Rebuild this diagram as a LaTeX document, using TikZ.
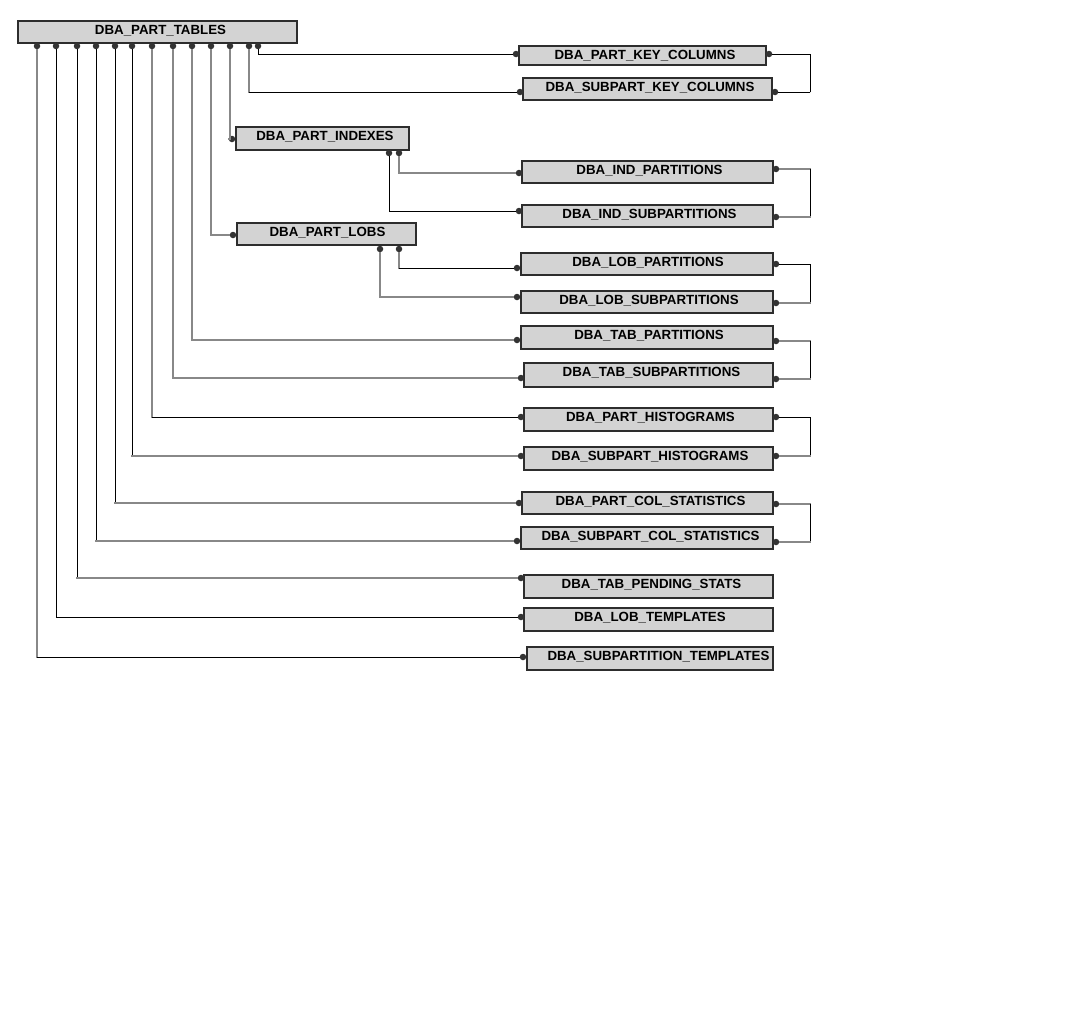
\documentclass[tikz,border=0pt]{standalone}
\usepackage{fontspec}
\setmainfont{Liberation Sans}
\definecolor{lgrey}{RGB}{136,136,136}
\definecolor{boxfill}{RGB}{211,211,211}
\definecolor{boxline}{RGB}{45,45,45}
\definecolor{dotc}{RGB}{51,51,51}
\tikzset{
  tbox/.style={rectangle, draw=boxline, fill=boxfill, line width=1.3pt, inner sep=0pt,
    font=\fontsize{13.3}{15}\selectfont\bfseries, text height=9.5pt},
  dot/.style={circle, fill=dotc, draw=none, inner sep=0pt, minimum size=6.5pt},
  lng/.style={draw=lgrey, line width=1.2pt, line cap=rect},
  lnb/.style={draw=black, line width=0.9pt, line cap=rect}
}
\newcommand\tb[7]{%
  \node[tbox, minimum width={#4-#2}, minimum height={#5-#3}, text depth={#5-#3-17.5}]
    (#1) at ({(#2+#4)/2},{(#3+#5)/2}) {\hspace*{#6pt}#7};}
\newcommand\cn[4]{\draw[#3] (#1) -- (#1 |- #2); \draw[#4] (#1 |- #2) -- (#2);}
\begin{document}
\begin{tikzpicture}[x=1pt,y=-1pt]
\fill[white] (0,0) rectangle (1076,1020);
\useasboundingbox (0,0) rectangle (1076,1020);

% boxes
\tb{T}{18}{21}{297}{43}{6}{DBA\_PART\_TABLES}
\tb{K1}{519}{46}{766}{65}{5}{DBA\_PART\_KEY\_COLUMNS}
\tb{K2}{523}{78}{772}{100}{5}{DBA\_SUBPART\_KEY\_COLUMNS}
\tb{PI}{236}{127}{409}{150}{5}{DBA\_PART\_INDEXES}
\tb{IP}{522}{161}{773}{183}{4}{DBA\_IND\_PARTITIONS}
\tb{IS}{522}{205}{773}{227}{4}{DBA\_IND\_SUBPARTITIONS}
\tb{PL}{237}{223}{416}{245}{2}{DBA\_PART\_LOBS}
\tb{LP}{521}{253}{773}{275}{2}{DBA\_LOB\_PARTITIONS}
\tb{LS}{521}{291}{773}{313}{4}{DBA\_LOB\_SUBPARTITIONS}
\tb{TP}{521}{326}{773}{349}{4}{DBA\_TAB\_PARTITIONS}
\tb{TS}{524}{363}{773}{387}{6}{DBA\_TAB\_SUBPARTITIONS}
\tb{PH}{524}{408}{773}{431}{4}{DBA\_PART\_HISTOGRAMS}
\tb{SH}{524}{447}{773}{470}{3}{DBA\_SUBPART\_HISTOGRAMS}
\tb{PC}{522}{492}{773}{514}{6}{DBA\_PART\_COL\_STATISTICS}
\tb{SC}{521}{527}{773}{549}{7}{DBA\_SUBPART\_COL\_STATISTICS}
\tb{PS}{524}{575}{773}{598}{6}{DBA\_TAB\_PENDING\_STATS}
\tb{LT}{524}{608}{773}{631}{3}{DBA\_LOB\_TEMPLATES}
\tb{ST}{527}{647}{773}{670}{17}{DBA\_SUBPARTITION\_TEMPLATES}

% dots under DBA_PART_TABLES
\foreach \x in {37,56,77,96,115,132,152,173,192,211,230,249,258}
  \node[dot] (t\x) at (\x,46) {};
\node[dot] (pi389) at (389,153) {};
\node[dot] (pi399) at (399,153) {};
\node[dot] (pl380) at (380,249) {};
\node[dot] (pl399) at (399,249) {};

% left dots
\node[dot] (k1l) at (516,54) {};
\node[dot] (k2l) at (520,92) {};
\node[dot] (pil) at (232,139) {};
\node[dot] (pll) at (233,235) {};
\node[dot] (ipl) at (519,173) {};
\node[dot] (isl) at (519,211) {};
\node[dot] (lpl) at (517,268) {};
\node[dot] (lsl) at (517,297) {};
\node[dot] (tpl) at (517,340) {};
\node[dot] (tsl) at (521,378) {};
\node[dot] (phl) at (521,417) {};
\node[dot] (shl) at (521,456) {};
\node[dot] (pcl) at (519,503) {};
\node[dot] (scl) at (517,541) {};
\node[dot] (psl) at (521,578) {};
\node[dot] (ltl) at (521,617) {};
\node[dot] (stl) at (523,657) {};

% right dots
\node[dot] (k1r) at (769,54) {};
\node[dot] (k2r) at (775,92) {};
\node[dot] (ipr) at (776,169) {};
\node[dot] (isr) at (776,217) {};
\node[dot] (lpr) at (776,264) {};
\node[dot] (lsr) at (776,303) {};
\node[dot] (tpr) at (776,341) {};
\node[dot] (tsr) at (776,379) {};
\node[dot] (phr) at (776,417) {};
\node[dot] (shr) at (776,456) {};
\node[dot] (pcr) at (776,504) {};
\node[dot] (scr) at (776,542) {};

% bracket corners
\coordinate (kb1) at (810,54);  \coordinate (kb2) at (810,92);
\coordinate (ib1) at (810,169); \coordinate (ib2) at (810,217);
\coordinate (lb1) at (810,264); \coordinate (lb2) at (810,303);
\coordinate (tb1) at (810,341); \coordinate (tb2) at (810,379);
\coordinate (hb1) at (810,417); \coordinate (hb2) at (810,456);
\coordinate (cb1) at (810,504); \coordinate (cb2) at (810,542);

% connectors from DBA_PART_TABLES
\cn{t258}{k1l}{lnb}{lnb}
\cn{t249}{k2l}{lng}{lnb}
\cn{t230}{pil}{lng}{lng}
\cn{t211}{pll}{lng}{lng}
\cn{t192}{tpl}{lng}{lng}
\cn{t173}{tsl}{lng}{lng}
\cn{t152}{phl}{lng}{lnb}
\cn{t132}{shl}{lnb}{lng}
\cn{t115}{pcl}{lnb}{lng}
\cn{t96}{scl}{lnb}{lng}
\cn{t77}{psl}{lnb}{lng}
\cn{t56}{ltl}{lnb}{lnb}
\cn{t37}{stl}{lng}{lnb}

% connectors from indexes / lobs
\cn{pi399}{ipl}{lng}{lng}
\cn{pi389}{isl}{lnb}{lnb}
\cn{pl399}{lpl}{lng}{lnb}
\cn{pl380}{lsl}{lng}{lng}

% brackets
\draw[lnb] (k1r) -- (kb1); \draw[lnb] (kb1) -- (kb2); \draw[lnb] (kb2) -- (k2r);
\draw[lng] (ipr) -- (ib1); \draw[lnb] (ib1) -- (ib2); \draw[lng] (ib2) -- (isr);
\draw[lnb] (lpr) -- (lb1); \draw[lnb] (lb1) -- (lb2); \draw[lng] (lb2) -- (lsr);
\draw[lng] (tpr) -- (tb1); \draw[lnb] (tb1) -- (tb2); \draw[lng] (tb2) -- (tsr);
\draw[lnb] (phr) -- (hb1); \draw[lnb] (hb1) -- (hb2); \draw[lng] (hb2) -- (shr);
\draw[lng] (pcr) -- (cb1); \draw[lnb] (cb1) -- (cb2); \draw[lng] (cb2) -- (scr);
\end{tikzpicture}
\end{document}
